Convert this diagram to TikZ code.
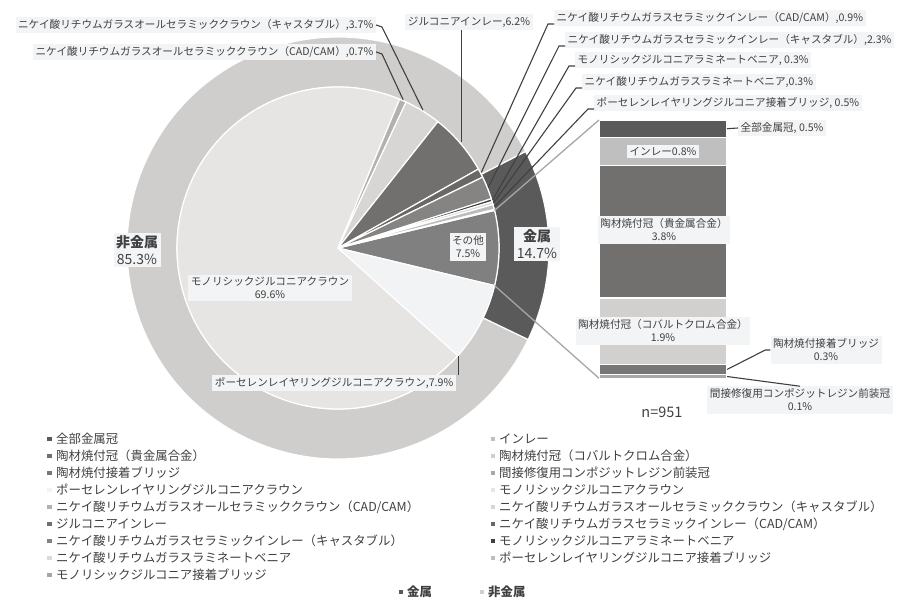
\documentclass[tikz,border=0pt]{standalone}
\usepackage{fontspec}
\setmainfont{Noto Sans CJK JP}
\usepackage{xcolor}
\definecolor{txt}{HTML}{404040}
\definecolor{lblbg}{HTML}{F3F4F6}
\definecolor{metal}{HTML}{5A5A5A}
\definecolor{nonmetal}{HTML}{CFCECD}
\definecolor{monocrown}{HTML}{E6E5E3}
\definecolor{porccrown}{HTML}{F2F3F5}
\definecolor{other}{HTML}{808080}
\definecolor{allcad}{HTML}{B3B1AE}
\definecolor{allcast}{HTML}{D7D6D4}
\definecolor{zirinlay}{HTML}{72706E}
\definecolor{inlaycad}{HTML}{6A6866}
\definecolor{inlaycast}{HTML}{858482}
\definecolor{monoveneer}{HTML}{404040}
\definecolor{veneer}{HTML}{D9D9D9}
\definecolor{porcbridge}{HTML}{BDBDBD}
\definecolor{monobridge}{HTML}{A6A6A6}
\definecolor{fullmetal}{HTML}{5A5A5A}
\definecolor{inlay}{HTML}{BFBFBF}
\definecolor{pfmnoble}{HTML}{72706E}
\definecolor{pfmcocr}{HTML}{D1D0CF}
\definecolor{pfmbridge}{HTML}{777777}
\definecolor{indirect}{HTML}{A8A8A8}
\definecolor{bridgeline}{HTML}{A6A6A6}
\tikzset{lbl/.style={fill=lblbg, text=txt, inner sep=2.5pt, align=center, font=\fontsize{10.6}{13}\selectfont},
  biglbl/.style={lbl, font=\fontsize{14}{17}\selectfont},
  leader/.style={draw=txt, line width=1.1pt},
  seg/.style={draw=white, line width=1.2pt, minimum width=128pt, inner sep=0pt, outer sep=0pt, anchor=north},
  legtxt/.style={anchor=west, text=txt, inner sep=0pt, font=\fontsize{12.4}{14}\selectfont},
  legmark/.style={minimum size=4.5pt, inner sep=0pt}}

\begin{document}
\begin{tikzpicture}[x=1pt, y=1pt]
\useasboundingbox (0,0) rectangle (897,600);
\begin{scope}[shift={(338,352)}]
 \fill[nonmetal, draw=white, line width=1.2pt] (-25.7:161) -- (-25.7:211) arc[start angle=-25.7, end angle=-332.8, radius=211] -- (-332.8:161) arc[start angle=-332.8, end angle=-25.7, radius=161] -- cycle;
 \fill[metal, draw=white, line width=1.2pt] (27.2:161) -- (27.2:211) arc[start angle=27.2, end angle=-25.7, radius=211] -- (-25.7:161) arc[start angle=-25.7, end angle=27.2, radius=161] -- cycle;
 \foreach \a/\b/\c in {13.5/-13.5/other, -13.5/-41.94/porccrown, -41.94/-292.5/monocrown, -292.5/-295.02/allcad, -295.02/-308.34/allcast, -308.34/-330.66/zirinlay, -330.66/-333.9/inlaycad, -333.9/-342.18/inlaycast, -342.18/-343.26/monoveneer, -343.26/-344.34/veneer, -344.34/-346.14/porcbridge, -346.14/-346.5/monobridge}
  \filldraw[fill=\c, draw=white, line width=1.2pt, line join=round] (0,0) -- (\a:161) arc[start angle=\a, end angle=\b, radius=161] -- cycle;
 \coordinate (p-acad) at (66.3:162);
 \coordinate (p-acast) at (58.4:162);
 \coordinate (p-zinl) at (40.5:163);
 \coordinate (p-icad) at (27.8:162);
 \coordinate (p-icast) at (22:162);
 \coordinate (p-mven) at (17.3:162);
 \coordinate (p-ven) at (16.2:162);
 \coordinate (p-pbr) at (14.8:162);
 \coordinate (p-pcrown) at (-42:162);
 \coordinate (p-otop) at (13.5:161);
 \coordinate (p-obot) at (-13.5:161);
\end{scope}

\node[seg, fill=fullmetal, minimum height=17.45pt] (b-full) at (663,480) {};
\node[seg, fill=inlay, minimum height=27.9pt] (b-inlay) at (b-full.south) {};
\node[seg, fill=pfmnoble, minimum height=132.6pt] (b-noble) at (b-inlay.south) {};
\node[seg, fill=pfmcocr, minimum height=66.3pt] (b-cocr) at (b-noble.south) {};
\node[seg, fill=pfmbridge, minimum height=10.5pt] (b-pbr) at (b-cocr.south) {};
\node[seg, fill=indirect, minimum height=3.5pt] (b-ind) at (b-pbr.south) {};
\draw[bridgeline, line width=1.3pt] (p-otop) -- (b-full.north west);
\draw[bridgeline, line width=1.3pt] (p-obot) -- (b-ind.south west);

\node[lbl, anchor=east] (l-acast) at (376,575) {ニケイ酸リチウムガラスオールセラミッククラウン（キャスタブル）,3.7\%};
\node[lbl, anchor=east] (l-acad) at (376,548) {ニケイ酸リチウムガラスオールセラミッククラウン（CAD/CAM）,0.7\%};
\node[lbl] (l-zinl) at (469,578) {ジルコニアインレー,6.2\%};
\node[lbl, anchor=west] (l-icad) at (554,582) {ニケイ酸リチウムガラスセラミックインレー（CAD/CAM）,0.9\%};
\node[lbl, anchor=west] (l-icast) at (565,560) {ニケイ酸リチウムガラスセラミックインレー（キャスタブル）,2.3\%};
\node[lbl, anchor=west] (l-mven) at (575,540) {モノリシックジルコニアラミネートベニア, 0.3\%};
\node[lbl, anchor=west] (l-ven) at (582,518) {ニケイ酸リチウムガラスラミネートベニア,0.3\%};
\node[lbl, anchor=west] (l-pbr) at (594,497) {ポーセレンレイヤリングジルコニア接着ブリッジ, 0.5\%};
\node[lbl, anchor=east] (l-pcrown) at (456,217) {ポーセレンレイヤリングジルコニアクラウン,7.9\%};
\node[lbl] (l-mcrown) at (270,312) {モノリシックジルコニアクラウン\\69.6\%};
\node[lbl] (l-other) at (468,353) {その他\\7.5\%};
\node[biglbl] (l-metal) at (537,356) {\textbf{金属}\\14.7\%};
\node[biglbl] (l-nonmetal) at (137,350) {\textbf{非金属}\\85.3\%};

\draw[leader] (p-acast) -- ([xshift=6pt,yshift=-2pt]l-acast.east) -- (l-acast.east);
\draw[leader] (p-acad) -- ([xshift=6pt,yshift=-2pt]l-acad.east) -- (l-acad.east);
\draw[leader] (p-zinl) -- (p-zinl |- l-zinl.south);
\draw[leader] (p-icad) -- ([xshift=-6pt,yshift=-6pt]l-icad.west) -- ([yshift=-6pt]l-icad.west);
\draw[leader] (p-icast) -- ([xshift=-6pt,yshift=-6pt]l-icast.west) -- ([yshift=-6pt]l-icast.west);
\draw[leader] (p-mven) -- ([xshift=-6pt,yshift=-6pt]l-mven.west) -- ([yshift=-6pt]l-mven.west);
\draw[leader] (p-ven) -- ([xshift=-6pt,yshift=-6pt]l-ven.west) -- ([yshift=-6pt]l-ven.west);
\draw[leader] (p-pbr) -- ([xshift=-6pt,yshift=-6pt]l-pbr.west) -- ([yshift=-6pt]l-pbr.west);
\draw[leader] (p-pcrown) -- (p-pcrown |- l-pcrown.north);

\node[lbl] (l-inlay) at (b-inlay) {インレー0.8\%};
\node[lbl] (l-noble) at (664,370) {陶材焼付冠（貴金属合金）\\3.8\%};
\node[lbl] (l-cocr) at (663,269) {陶材焼付冠（コバルトクロム合金）\\1.9\%};
\node[lbl, anchor=west] (l-full) at (738,472) {全部金属冠, 0.5\%};
\node[lbl] (l-pbrb) at (826,250) {陶材焼付接着ブリッジ\\0.3\%};
\node[lbl] (l-ind) at (800,200) {間接修復用コンポジットレジン前装冠\\0.1\%};
\draw[leader] (b-full.east) -- (l-full.west);
\draw[leader] (b-pbr.east) -- ([xshift=-5pt]l-pbrb.west) -- (l-pbrb.west);
\draw[leader] (b-ind.east) -- (l-ind.north);
\node[text=txt, font=\fontsize{14.5}{17}\selectfont] (l-n) at (662,188) {n=951};

\foreach \c/\t [count=\i from 0] in {fullmetal/全部金属冠, pfmnoble/{陶材焼付冠（貴金属合金）}, pfmbridge/陶材焼付接着ブリッジ, porccrown/ポーセレンレイヤリングジルコニアクラウン, allcad/{ニケイ酸リチウムガラスオールセラミッククラウン（CAD/CAM）}, zirinlay/ジルコニアインレー, inlaycast/{ニケイ酸リチウムガラスセラミックインレー（キャスタブル）}, veneer/ニケイ酸リチウムガラスラミネートベニア, monobridge/モノリシックジルコニア接着ブリッジ}{
  \node[legmark, fill=\c] (ml\i) at (49.5,161-17*\i) {};
  \node[legtxt] (tl\i) at (56,161-17*\i) {\t};
}
\foreach \c/\t [count=\i from 0] in {inlay/インレー, pfmcocr/{陶材焼付冠（コバルトクロム合金）}, indirect/間接修復用コンポジットレジン前装冠, monocrown/モノリシックジルコニアクラウン, allcast/{ニケイ酸リチウムガラスオールセラミッククラウン（キャスタブル）}, inlaycad/{ニケイ酸リチウムガラスセラミックインレー（CAD/CAM）}, monoveneer/モノリシックジルコニアラミネートベニア, porcbridge/ポーセレンレイヤリングジルコニア接着ブリッジ}{
  \node[legmark, fill=\c] (mr\i) at (493,161-17*\i) {};
  \node[legtxt] (tr\i) at (499,161-17*\i) {\t};
}
\node[legmark, fill=metal] (ms1) at (401,8) {};
\node[legtxt, font=\bfseries\fontsize{12.4}{14}\selectfont] (ts1) at (407,8) {金属};
\node[legmark, fill=nonmetal] (ms2) at (482,8) {};
\node[legtxt, font=\bfseries\fontsize{12.4}{14}\selectfont] (ts2) at (488,8) {非金属};
\end{tikzpicture}
\end{document}
